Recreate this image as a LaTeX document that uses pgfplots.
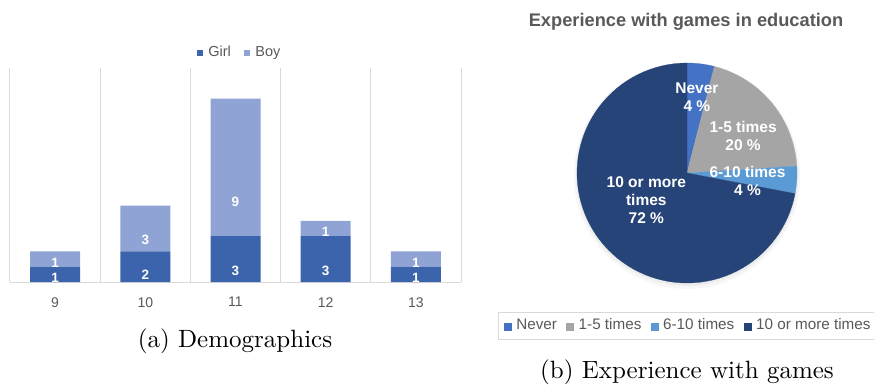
\documentclass[border=0pt]{standalone}
\usepackage{pgfplots}
\pgfplotsset{compat=1.18}
\usepackage{pgfplotstable}
\usepackage{fontspec}
\newfontfamily\cf{Liberation Sans}
\definecolor{girl}{HTML}{3B64AD}
\definecolor{boy}{HTML}{8FA4D4}
\definecolor{cNever}{HTML}{4472C4}
\definecolor{cOne}{HTML}{A5A5A5}
\definecolor{cSix}{HTML}{5B9BD5}
\definecolor{cTen}{HTML}{264478}
\definecolor{gridc}{HTML}{D9D9D9}
\definecolor{txt}{HTML}{595959}
\tikzset{pielab/.style={font=\cf\bfseries\fontsize{6.2pt}{7.2pt}\selectfont, text=white, align=center}}

\pgfplotstableread{
age girl boy
9 1 1
10 2 3
11 3 9
12 3 1
13 1 1
}\demo

% pie percentages
\def\pNever{4}\def\pOne{20}\def\pSix{4}\def\pTen{72}
\pgfmathsetmacro\aA{90-3.6*\pNever}
\pgfmathsetmacro\aB{\aA-3.6*\pOne}
\pgfmathsetmacro\aC{\aB-3.6*\pSix}
\pgfmathsetmacro\aD{\aC-3.6*\pTen}

\begin{document}
\begin{tikzpicture}
\useasboundingbox (0,0) rectangle (349.6pt,153.6pt);
\begin{axis}[
  at={(4pt,40.8pt)}, anchor=south west,
  scale only axis, width=180.4pt, height=85.6pt,
  ybar stacked, bar width=20pt,
  xmin=-0.5, xmax=4.5, ymin=0, ymax=14,
  enlargelimits=false,
  axis x line=bottom, axis y line=none,
  axis line style={-, draw=gridc, line width=0.4pt},
  xtick={0,...,4}, xticklabels={9,10,11,12,13},
  minor xtick={-0.5,0.5,...,4.5},
  xminorgrids=true, minor grid style={draw=gridc, line width=0.4pt},
  major tick length=0pt, minor tick length=0pt,
  ytick=\empty,
  xticklabel style={font=\cf\fontsize{5.6pt}{6pt}\selectfont, text=txt, yshift=-2.6pt},
  legend style={at={(0.513,1.07)}, anchor=center, draw=none, fill=none, legend columns=2,
    font=\cf\fontsize{5.8pt}{6.5pt}\selectfont, text=txt,
    /tikz/every even column/.append style={column sep=3.4pt}},
  legend image code/.code={\fill[#1] (0pt,-1.2pt) rectangle (2.4pt,1.2pt);},
  nodes near coords, point meta=explicit,
  /pgf/number format/assume math mode=true,
  every node near coord/.append style={anchor=center, text=white,
    font=\cf\bfseries\fontsize{5.4pt}{6pt}\selectfont, yshift=-\seg*1.52855pt},
  clip=false,
]
\addplot[fill=girl, draw=none, visualization depends on={\thisrow{girl}\as\seg}]
  table[x expr=\coordindex, y=girl, meta=girl]{\demo};
\addplot[fill=boy, draw=none, visualization depends on={\thisrow{boy}\as\seg}]
  table[x expr=\coordindex, y=boy, meta=boy]{\demo};
\legend{Girl,Boy}
\end{axis}

\node[font=\cf\bfseries\fontsize{7.3pt}{8pt}\selectfont, text=txt] at (274.4pt,144.8pt)
  {Experience with games in education};

\begin{axis}[
  at={(274.8pt,84.4pt)}, anchor=center,
  scale only axis, width=88pt, height=88pt,
  xmin=-1, xmax=1, ymin=-1, ymax=1,
  hide axis, clip=false,
  legend style={at={(-0.359,-0.132)}, anchor=north west, draw=gridc, fill=white,
    legend columns=4, font=\cf\fontsize{6.1pt}{7pt}\selectfont, text=txt,
    inner xsep=2.2pt, inner ysep=0.5pt,
    /tikz/every even column/.append style={column sep=1.8pt}},
  legend image code/.code={\fill[#1] (0pt,-1.4pt) rectangle (2.8pt,1.4pt);},
]
\addplot[forget plot, fill=black, fill opacity=0.03, draw=none, domain=0:360, samples=73, variable=\t]
  ({1.03*cos(t)},{1.03*sin(t)-0.025});
\addplot[forget plot, fill=black, fill opacity=0.04, draw=none, domain=0:360, samples=73, variable=\t]
  ({1.012*cos(t)},{1.012*sin(t)-0.015});
\addplot[fill=cNever, draw=cNever, line width=0.1pt, domain=\aA:90, samples=8, variable=\t]
  ({cos(t)},{sin(t)}) -- (axis cs:0,0) -- cycle;
\addplot[fill=cOne, draw=cOne, line width=0.1pt, domain=\aB:\aA, samples=25, variable=\t]
  ({cos(t)},{sin(t)}) -- (axis cs:0,0) -- cycle;
\addplot[fill=cSix, draw=cSix, line width=0.1pt, domain=\aC:\aB, samples=8, variable=\t]
  ({cos(t)},{sin(t)}) -- (axis cs:0,0) -- cycle;
\addplot[fill=cTen, draw=cTen, line width=0.1pt, domain=\aD:\aC, samples=80, variable=\t]
  ({cos(t)},{sin(t)}) -- (axis cs:0,0) -- cycle;
\legend{Never,1-5 times,6-10 times,10 or more times}
\node[pielab] at (axis cs:0.09,0.69) {Never\\4 \%};
\node[pielab] at (axis cs:0.51,0.34) {1-5 times\\20 \%};
\node[pielab] at (axis cs:0.55,-0.07) {6-10 times\\4 \%};
\node[pielab] at (axis cs:-0.37,-0.25) {10 or more\\times\\72 \%};
\end{axis}

\node[anchor=base] at (94pt,14.8pt) {(a) Demographics};
\node[anchor=base] at (274.8pt,2.4pt) {(b) Experience with games};
\end{tikzpicture}
\end{document}
